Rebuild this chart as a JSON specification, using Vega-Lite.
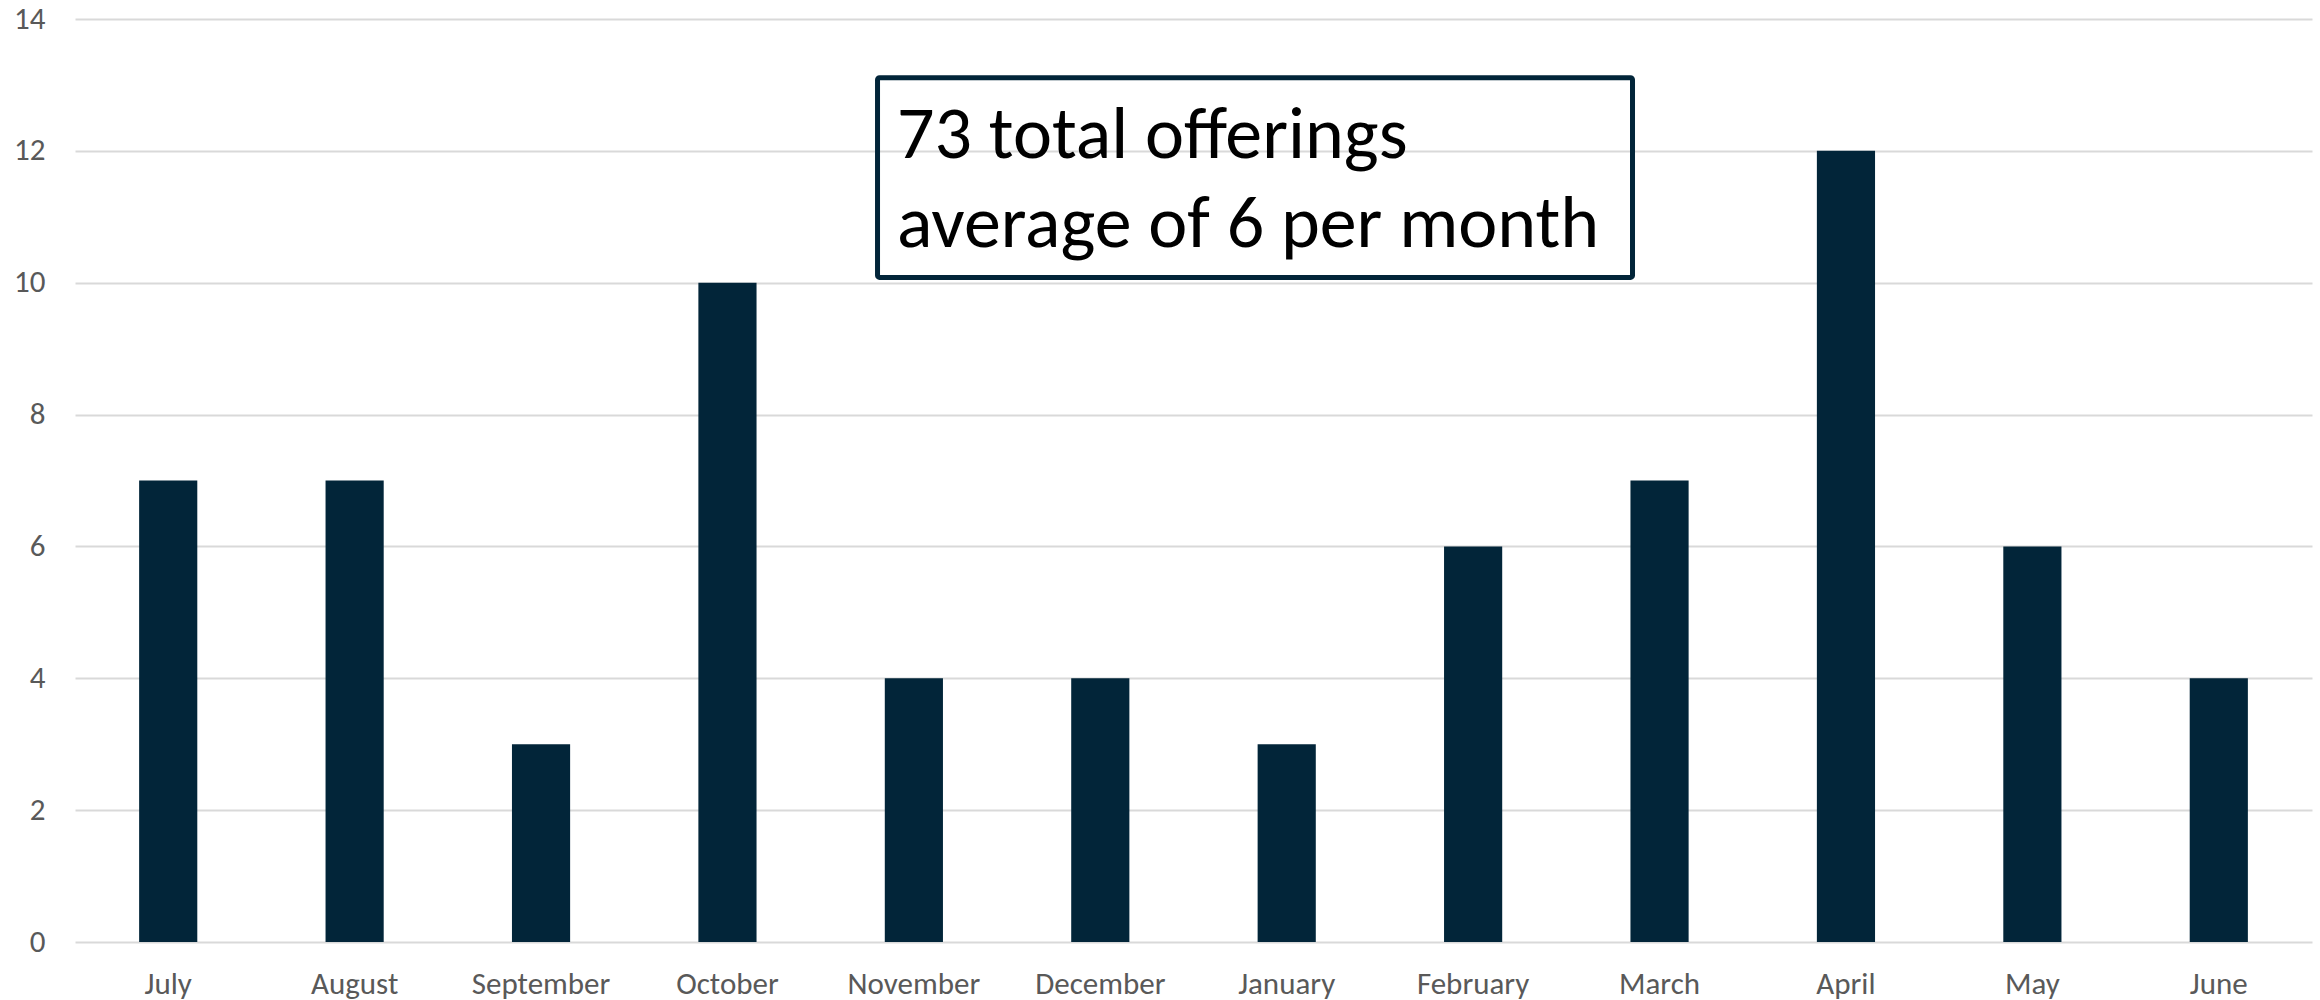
{
  "$schema": "https://vega.github.io/schema/vega-lite/v6.json",
  "width": 2237,
  "height": 923,
  "autosize": {"type": "none"},
  "padding": {"left": 75, "top": 19, "right": 8, "bottom": 58},
  "background": "white",
  "config": {
    "view": {"stroke": null},
    "font": "Calibri, Carlito, Lato, sans-serif"
  },
  "datasets": {
    "months": [
      {"month": "July", "offerings": 7},
      {"month": "August", "offerings": 7},
      {"month": "September", "offerings": 3},
      {"month": "October", "offerings": 10},
      {"month": "November", "offerings": 4},
      {"month": "December", "offerings": 4},
      {"month": "January", "offerings": 3},
      {"month": "February", "offerings": 6},
      {"month": "March", "offerings": 7},
      {"month": "April", "offerings": 12},
      {"month": "May", "offerings": 6},
      {"month": "June", "offerings": 4}
    ],
    "note": [
      {"label": "73 total offerings\naverage of 6 per month"}
    ]
  },
  "resolve": {"scale": {"x": "independent"}},
  "layer": [
    {
      "data": {"name": "months"},
      "mark": {"type": "bar", "color": "#022539"},
      "encoding": {
        "x": {
          "field": "month",
          "type": "nominal",
          "sort": null,
          "scale": {"paddingInner": 0.688, "paddingOuter": 0.344},
          "axis": {
            "title": null,
            "labelAngle": 0,
            "domain": false,
            "ticks": false,
            "grid": false,
            "labelFont": "Calibri, Carlito, Lato, sans-serif",
            "labelFontSize": 31,
            "labelColor": "#595959",
            "labelPadding": 27
          }
        },
        "y": {
          "field": "offerings",
          "type": "quantitative",
          "scale": {"domain": [0, 14], "nice": false},
          "axis": {
            "title": null,
            "values": [0, 2, 4, 6, 8, 10, 12, 14],
            "format": "d",
            "domain": false,
            "ticks": false,
            "grid": true,
            "gridColor": "#d9d9d9",
            "gridWidth": 2,
            "labelFont": "Calibri, Carlito, Lato, sans-serif",
            "labelFontSize": 31,
            "labelColor": "#595959",
            "labelPadding": 30
          }
        }
      }
    },
    {
      "data": {"name": "note"},
      "mark": {"type": "rect", "fill": null, "fillOpacity": 0, "stroke": "#022539", "strokeWidth": 5, "cornerRadius": 2},
      "encoding": {
        "x": {"datum": 4.305, "type": "quantitative", "scale": {"domain": [0, 12], "nice": false, "zero": false}, "axis": null},
        "x2": {"datum": 8.355},
        "y": {"datum": 13.11, "type": "quantitative"},
        "y2": {"datum": 10.08}
      }
    },
    {
      "data": {"name": "note"},
      "mark": {
        "type": "text",
        "align": "left",
        "baseline": "alphabetic",
        "lineBreak": "\n",
        "lineHeight": 89,
        "fontSize": 74,
        "font": "Calibri, Carlito, Lato, sans-serif",
        "color": "#000000"
      },
      "encoding": {
        "x": {"datum": 4.41, "type": "quantitative", "scale": {"domain": [0, 12], "nice": false, "zero": false}, "axis": null},
        "y": {"datum": 11.89, "type": "quantitative"},
        "text": {"field": "label"}
      }
    }
  ]
}
